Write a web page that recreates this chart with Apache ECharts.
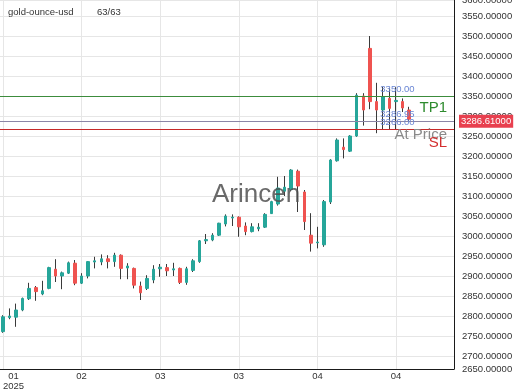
<!DOCTYPE html>
<html>
<head>
<meta charset="utf-8">
<script src="https://cdn.jsdelivr.net/npm/echarts@6/dist/echarts.min.js"></script>
<style>
html,body{margin:0;padding:0;background:#fff;}
#c{width:520px;height:390px;}
</style>
</head>
<body>
<div id="c"></div>
<script>
// ---- data ----
const symbol = 'gold-ounce-usd';
const counter = '63/63';
const opens  = [2761,2796,2797,2815,2843,2871,2855,2869,2917,2900,2907,2932,2882,2900,2935,2935,2943,2936,2952,2920,2919,2875,2869,2890,2918,2921,2915,2919,2884,2914,2936,2988,2990,3002,3030,3045,3047,3025,3011,3018,3022,3056,3080,3112,3116,3162,3110,3002,2983,2978,3085,3188,3222,3212,3250,3350,3469,3336,3315,3344,3336,3336,3315];
const closes = [2798,2800,2815,2844,2869,2861,2863,2921,2900,2908,2933,2882,2900,2936,2938,2943,2936,2952,2919,2925,2877,2858,2894,2917,2922,2913,2918,2884,2918,2938,2988,2991,3002,3032,3050,3047,3023,3011,3023,3022,3054,3086,3120,3122,3165,3125,3036,2982,2985,3086,3190,3240,3216,3250,3352,3315,3336,3315,3348,3319,3339,3320,3292];
const lows   = [2758,2792,2773,2812,2840,2838,2852,2867,2885,2867,2905,2877,2880,2894,2919,2927,2919,2923,2892,2892,2869,2840,2865,2882,2898,2900,2900,2880,2878,2910,2933,2980,2987,3000,3024,3025,2998,3002,3009,3012,3020,3055,3076,3100,3112,3060,3015,2961,2969,2973,3080,3186,3194,3210,3248,3276,3317,3257,3265,3265,3266,3310,3287];
const highs  = [2802,2819,2831,2846,2883,2875,2888,2923,2942,2911,2936,2940,2907,2937,2948,2954,2952,2958,2954,2932,2921,2886,2902,2927,2930,2930,2933,2921,2923,2942,2990,3005,3007,3033,3054,3054,3049,3034,3032,3032,3057,3088,3148,3150,3167,3166,3115,3057,3023,3090,3192,3244,3244,3252,3357,3357,3500,3383,3373,3369,3372,3344,3323];
const tickIndex  = [0, 12, 24, 36, 48, 60];
const labelIndex = [1.6, 12, 24, 36, 48, 60];
const tickLabels = ['01\n2025', '02', '03', '03', '04', '04'];
const levelValues = [3350.00, 3286.95, 3266.00];
const levelNames  = ['TP1', 'At Price', 'SL'];
const lastPrice = 3286.61;

// ---- build ----
const wickData = opens.map((o, i) => [i, o, closes[i], lows[i], highs[i]]);
const bodyData = opens.map((o, i) => [i, o, closes[i], Math.min(o, closes[i]), Math.max(o, closes[i])]);

const GREEN = '#26a69a', RED = '#ef5350', WICK = '#3a3a3a';
const FONT = 'Liberation Sans, Arial, sans-serif';
const levelColors = ['#2e8b2e', '#8a8a8a', '#d32f2f'];
const levelLineColors = ['#3c8c3c', '#9a98a6', '#c62828'];
const levelLabelGap = [4, 6, 6];

const markData = [];
levelValues.forEach((v, k) => {
  markData.push({
    yAxis: v,
    lineStyle: {color: levelLineColors[k], width: 1, type: 'solid'},
    label: {show: true, formatter: levelNames[k], position: 'insideEndBottom', distance: [7, levelLabelGap[k]],
            color: levelColors[k], fontSize: 15, fontFamily: FONT}
  });
  markData.push([
    {coord: [57.6, v], lineStyle: {color: 'rgba(0,0,0,0)', width: 0},
     label: {show: true, formatter: v.toFixed(2), position: 'insideStartTop', distance: [0, 2],
             color: '#6a86d4', fontSize: 9.5, fontFamily: FONT}},
    {coord: [68.85, v]}
  ]);
});
markData.push({
  yAxis: lastPrice,
  lineStyle: {color: '#8c86a6', width: 1, type: 'solid'},
  label: {show: true, position: 'end', formatter: lastPrice.toFixed(5), distance: 5,
          backgroundColor: '#e8404f', color: '#fff', padding: [2, 2, 1, 2], fontSize: 9.5, fontFamily: FONT}
});

const chart = echarts.init(document.getElementById('c'), null, {renderer: 'canvas'});
chart.setOption({
  animation: false,
  backgroundColor: '#fff',
  grid: {left: 0, right: 66, top: 0, bottom: 21, containLabel: false, outerBoundsMode: 'none'},
  xAxis: {
    type: 'value', min: -0.46, max: 68.85,
    axisLine: {show: true, onZero: false, lineStyle: {color: '#1a1a1a', width: 1}},
    axisTick: {show: false, customValues: tickIndex},
    splitLine: {show: true, lineStyle: {color: '#e6e6e6', width: 1}},
    axisLabel: {
      customValues: labelIndex, color: '#333', fontSize: 9.5, fontFamily: FONT, margin: 2, lineHeight: 10,
      formatter: function (v) {
        for (let k = 0; k < labelIndex.length; k++) { if (Math.abs(labelIndex[k] - v) < 1e-6) return tickLabels[k]; }
        return '';
      }
    }
  },
  yAxis: {
    type: 'value', position: 'right', min: 2667.5, max: 3590, scale: true,
    splitNumber: 18, minInterval: 50, maxInterval: 50,
    axisLine: {show: true, onZero: false, lineStyle: {color: '#1a1a1a', width: 1}},
    axisTick: {show: false},
    splitLine: {show: true, lineStyle: {color: '#e6e6e6', width: 1}},
    axisLabel: {
      showMinLabel: true, showMaxLabel: true, margin: 8,
      color: '#333', fontSize: 9.5, fontFamily: FONT,
      formatter: function (v) { return (Math.round(v / 50) * 50).toFixed(5); }
    }
  },
  series: [
    {
      type: 'candlestick', data: wickData, barWidth: 1, silent: true,
      itemStyle: {color: WICK, color0: WICK, borderColor: WICK, borderColor0: WICK, borderWidth: 1},
      markLine: {silent: true, symbol: ['none', 'none'], data: markData}
    },
    {
      type: 'candlestick', data: bodyData, barWidth: 3, silent: true,
      itemStyle: {color: GREEN, color0: RED, borderColor: GREEN, borderColor0: RED, borderWidth: 1}
    }
  ],
  graphic: [
    {type: 'text', left: 8, top: 7, z: 100, style: {text: symbol, font: '9.5px ' + FONT, fill: '#333'}},
    {type: 'text', left: 97, top: 7, z: 100, style: {text: counter, font: '9.5px ' + FONT, fill: '#333'}},
    {type: 'text', left: 212, top: 182, z: 100, style: {text: 'Arincen', font: '26px ' + FONT, fill: 'rgba(80,80,80,0.85)'}}
  ]
});
</script>
</body>
</html>
